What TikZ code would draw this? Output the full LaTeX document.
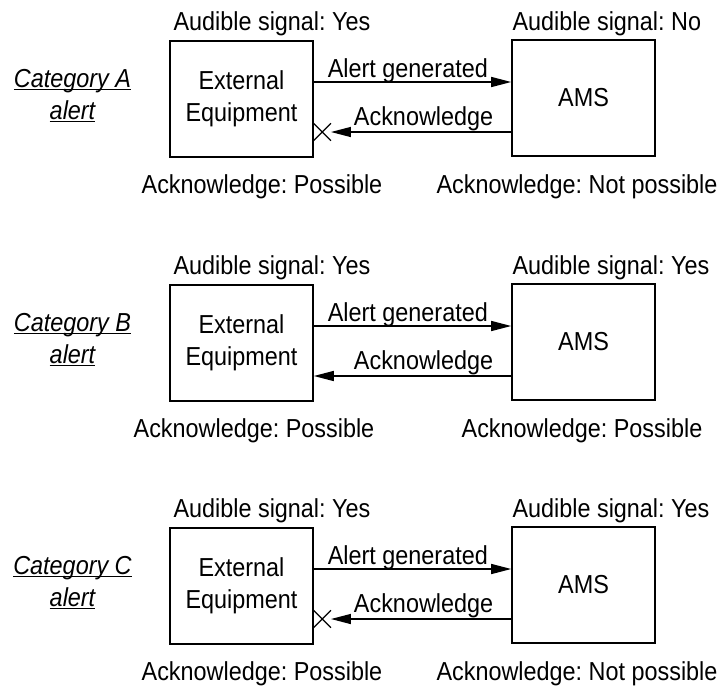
\documentclass[tikz,border=0pt]{standalone}
\usepackage{fontspec}
\setmainfont{Liberation Sans}[FakeStretch=0.9]
\usepackage{tikz}
\usetikzlibrary{arrows.meta,positioning,shapes.misc}
\frenchspacing
\newcommand{\ulcat}[1]{\setbox0\hbox{#1}\rlap{\rule[-2.6pt]{\wd0}{1.1pt}}\box0}

\begin{document}
\begin{tikzpicture}[x=1pt, y=-1pt, font=\fontsize{26}{32}\selectfont,
 box/.style={draw, line width=1.6pt, minimum width=143pt, minimum height=116pt, inner sep=0pt, align=center},
 cat/.style={font=\fontsize{26}{32}\selectfont\itshape, align=center},
 lbl/.style={anchor=base west},
 ack/.style={anchor=base},
 arr/.style={-{Triangle[length=20pt,width=10pt]}, line width=1.4pt},
 blocked/.style={cross out, draw, line width=1.3pt, minimum size=16pt, inner sep=0pt}]
\useasboundingbox (0,0) rectangle (719,686);
% Category A
\node[cat] (catA) at (72.5,96) {\ulcat{Category A}\\\ulcat{alert}};
\node[box] (extA) at (241.5,99) {External\\Equipment};
\node[box] (amsA) at (583.5,98) {AMS};
\node[lbl] (audExtA) at (170,30) {Audible signal: Yes};
\node[lbl] (audAmsA) at (509,30) {Audible signal: No};
\node[ack] (ackExtA) at (262,193) {Acknowledge: Possible};
\node[ack] (ackAmsA) at (577,193) {Acknowledge: Not possible};
\node[blocked] (xA) at ([xshift=8.5pt,yshift=-33pt]extA.east) {};
\draw[arr] ([yshift=17pt]extA.east) -- ([yshift=17pt]extA.east -| amsA.west)
  node[pos=0, anchor=base west, xshift=10pt, yshift=5pt] {Alert generated};
\draw[arr] (amsA.west |- xA) -- (xA.east)
  node[pos=0, anchor=base east, xshift=-14pt, yshift=7pt] {Acknowledge};
% Category B
\node[cat] (catB) at (72.5,340) {\ulcat{Category B}\\\ulcat{alert}};
\node[box] (extB) at (241.5,343) {External\\Equipment};
\node[box] (amsB) at (583.5,342) {AMS};
\node[lbl] (audExtB) at (170,274) {Audible signal: Yes};
\node[lbl] (audAmsB) at (509,274) {Audible signal: Yes};
\node[ack] (ackExtB) at (254,437) {Acknowledge: Possible};
\node[ack] (ackAmsB) at (582,437) {Acknowledge: Possible};
\draw[arr] ([yshift=17pt]extB.east) -- ([yshift=17pt]extB.east -| amsB.west)
  node[pos=0, anchor=base west, xshift=10pt, yshift=5pt] {Alert generated};
\draw[arr] ([yshift=-33pt]extB.east -| amsB.west) -- ([yshift=-33pt]extB.east)
  node[pos=0, anchor=base east, xshift=-14pt, yshift=7pt] {Acknowledge};
% Category C
\node[cat] (catC) at (72.5,583) {\ulcat{Category C}\\\ulcat{alert}};
\node[box] (extC) at (241.5,586) {External\\Equipment};
\node[box] (amsC) at (583.5,585) {AMS};
\node[lbl] (audExtC) at (170,517) {Audible signal: Yes};
\node[lbl] (audAmsC) at (509,517) {Audible signal: Yes};
\node[ack] (ackExtC) at (262,680) {Acknowledge: Possible};
\node[ack] (ackAmsC) at (577,680) {Acknowledge: Not possible};
\node[blocked] (xC) at ([xshift=8.5pt,yshift=-33pt]extC.east) {};
\draw[arr] ([yshift=17pt]extC.east) -- ([yshift=17pt]extC.east -| amsC.west)
  node[pos=0, anchor=base west, xshift=10pt, yshift=5pt] {Alert generated};
\draw[arr] (amsC.west |- xC) -- (xC.east)
  node[pos=0, anchor=base east, xshift=-14pt, yshift=7pt] {Acknowledge};
\end{tikzpicture}
\end{document}
